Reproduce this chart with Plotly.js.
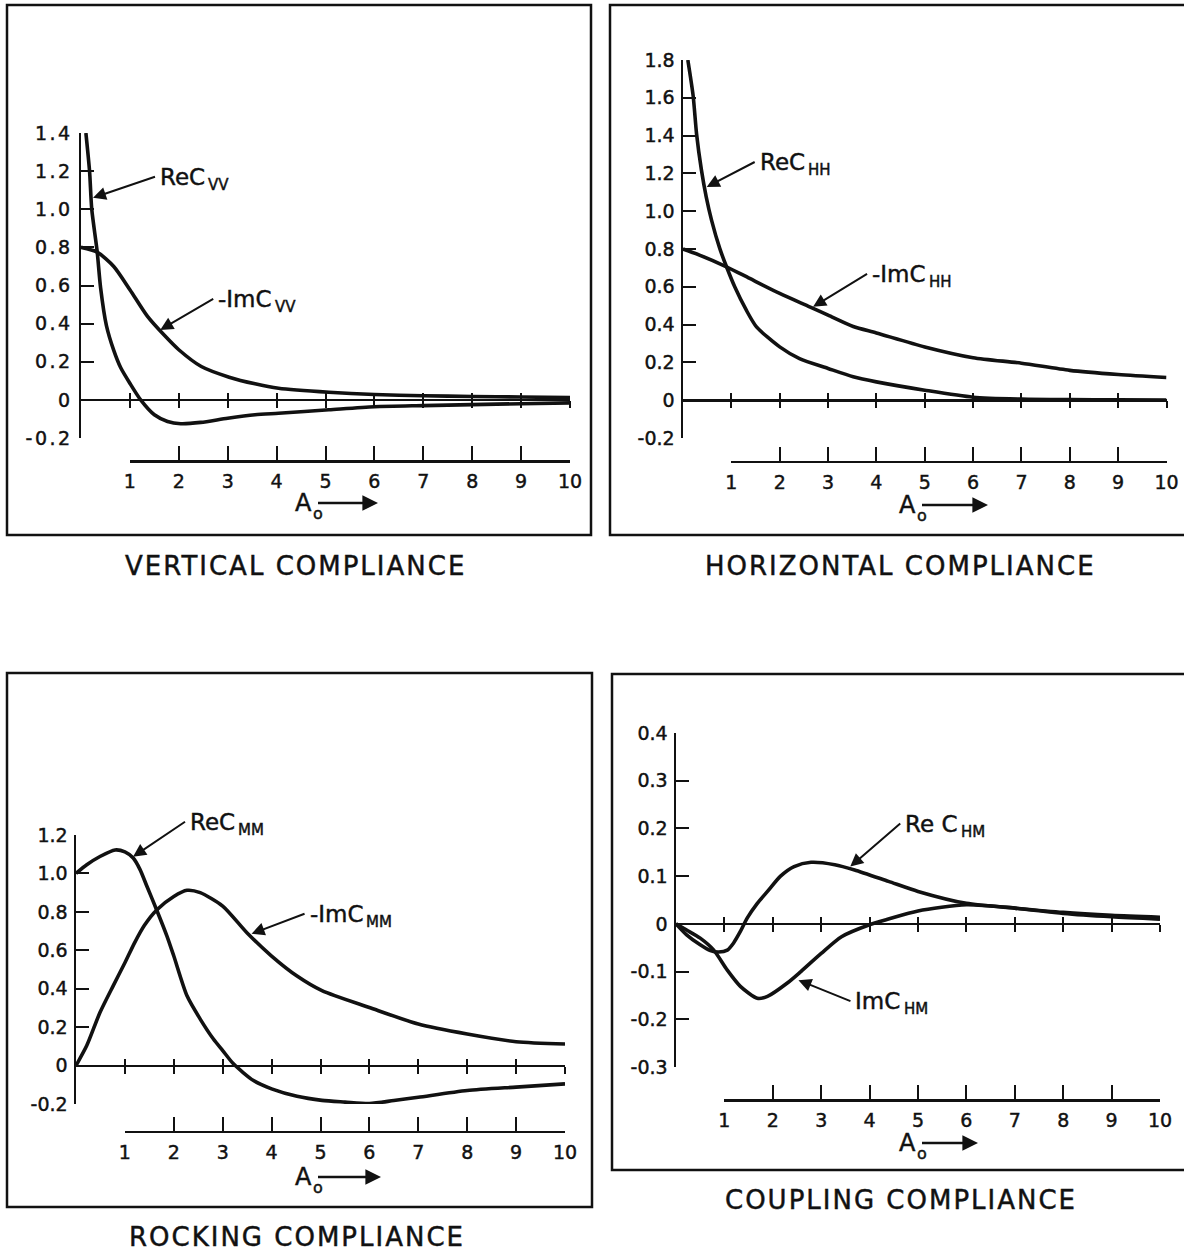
<!DOCTYPE html>
<html><head><meta charset="utf-8">
<script src="https://cdn.plot.ly/plotly-3.0.1.min.js"></script>
<style>
html,body{margin:0;padding:0;background:#fff;}
#chart{width:1184px;height:1252px;}
#chart svg text { stroke: #111; stroke-width: 0.45px; }
.xtick text, .ytick text { letter-spacing: 2.5px; }
.annotation[data-index="0"] text, .annotation[data-index="1"] text,
.annotation[data-index="2"] text, .annotation[data-index="3"] text { letter-spacing: 2px; }
</style></head>
<body><div id="chart"></div>
<script>
// ---------------- data ----------------
// Vertical compliance
const vertReX = [0.1, 0.175, 0.22, 0.33, 0.4, 0.52, 0.67, 0.81, 1.0, 1.22, 1.5, 1.77, 2.04, 2.45, 3.0, 3.56, 4.04, 5.07, 6, 7, 8, 9, 10];
const vertReY = [1.4, 1.2, 1.0, 0.78, 0.59, 0.39, 0.26, 0.17, 0.087, 0, -0.078, -0.113, -0.125, -0.118, -0.096, -0.078, -0.07, -0.052, -0.036, -0.03, -0.025, -0.02, -0.016];
const vertImX = [0, 0.33, 0.67, 1.0, 1.36, 1.7, 2.0, 2.46, 3.03, 3.56, 4.04, 5.07, 6, 7, 8, 9, 10];
const vertImY = [0.8, 0.775, 0.70, 0.578, 0.438, 0.34, 0.263, 0.175, 0.119, 0.084, 0.061, 0.04, 0.028, 0.022, 0.018, 0.015, 0.012];
// Horizontal compliance
const horzReX = [0.1, 0.21, 0.28, 0.38, 0.48, 0.59, 0.76, 0.9, 1.07, 1.31, 1.52, 2.0, 2.41, 3.0, 3.52, 4.0, 5.0, 6.0, 7, 8, 9, 10];
const horzReY = [1.8, 1.61, 1.41, 1.22, 1.076, 0.953, 0.803, 0.706, 0.6, 0.476, 0.388, 0.282, 0.22, 0.168, 0.124, 0.097, 0.053, 0.016, 0.006, 0.003, 0.002, 0.001];
const horzImX = [0, 0.34, 0.9, 1.38, 2.0, 2.62, 3.0, 3.52, 4.0, 5.0, 6.0, 7, 8, 9, 10];
const horzImY = [0.8, 0.768, 0.706, 0.644, 0.565, 0.494, 0.45, 0.39, 0.356, 0.282, 0.225, 0.196, 0.158, 0.136, 0.12];
// Rocking compliance
const rockReX = [0, 0.22, 0.49, 0.8, 1.0, 1.17, 1.31, 1.45, 1.65, 1.86, 2.0, 2.27, 2.54, 2.81, 3.0, 3.22, 3.63, 4.0, 4.52, 5.03, 5.5, 6, 6.5, 7, 8, 9, 10];
const rockReY = [1.0, 1.045, 1.088, 1.122, 1.112, 1.08, 1.02, 0.933, 0.81, 0.674, 0.57, 0.363, 0.242, 0.138, 0.078, 0.009, -0.078, -0.121, -0.16, -0.181, -0.19, -0.198, -0.182, -0.165, -0.13, -0.112, -0.095];
const rockImX = [0, 0.22, 0.49, 0.76, 1.0, 1.2, 1.4, 1.65, 2.0, 2.27, 2.54, 3.0, 3.5, 4.0, 4.52, 5.03, 6, 7, 8, 9, 10];
const rockImY = [0, 0.104, 0.276, 0.415, 0.535, 0.64, 0.73, 0.81, 0.88, 0.912, 0.9, 0.83, 0.69, 0.57, 0.466, 0.39, 0.302, 0.216, 0.164, 0.124, 0.112];
// Coupling compliance
const coupReX = [0, 0.22, 0.5, 0.71, 0.88, 1.06, 1.19, 1.33, 1.47, 1.68, 1.89, 2.16, 2.44, 2.79, 3.28, 3.69, 4.39, 5.0, 6, 7, 8, 9, 10];
const coupReY = [0, -0.023, -0.044, -0.056, -0.059, -0.055, -0.04, -0.016, 0.012, 0.043, 0.068, 0.1, 0.12, 0.129, 0.124, 0.113, 0.089, 0.068, 0.043, 0.033, 0.024, 0.018, 0.014];
const coupImX = [0, 0.22, 0.5, 0.78, 1.06, 1.33, 1.68, 1.89, 2.3, 2.58, 3.0, 3.42, 3.97, 4.39, 5.0, 6, 7, 8, 9, 10];
const coupImY = [0, -0.013, -0.03, -0.055, -0.097, -0.131, -0.156, -0.152, -0.124, -0.1, -0.062, -0.027, -0.003, 0.01, 0.027, 0.04, 0.033, 0.022, 0.015, 0.01];

// tick values / labels
const a0Ticks = [1, 2, 3, 4, 5, 6, 7, 8, 9, 10];
const a0Labels = ['1', '2', '3', '4', '5', '6', '7', '8', '9', '10'];
const vertYTicks = [-0.2, 0, 0.2, 0.4, 0.6, 0.8, 1.0, 1.2, 1.4];
const vertYLabels = ['-0.2', '0', '0.2', '0.4', '0.6', '0.8', '1.0', '1.2', '1.4'];
const horzYTicks = [-0.2, 0, 0.2, 0.4, 0.6, 0.8, 1.0, 1.2, 1.4, 1.6, 1.8];
const horzYLabels = ['-0.2', '0', '0.2', '0.4', '0.6', '0.8', '1.0', '1.2', '1.4', '1.6', '1.8'];
const rockYTicks = [-0.2, 0, 0.2, 0.4, 0.6, 0.8, 1.0, 1.2];
const rockYLabels = ['-0.2', '0', '0.2', '0.4', '0.6', '0.8', '1.0', '1.2'];
const coupYTicks = [-0.3, -0.2, -0.1, 0, 0.1, 0.2, 0.3, 0.4];
const coupYLabels = ['-0.3', '-0.2', '-0.1', '0', '0.1', '0.2', '0.3', '0.4'];

const panelTitles = ['VERTICAL COMPLIANCE', 'HORIZONTAL COMPLIANCE', 'ROCKING COMPLIANCE', 'COUPLING COMPLIANCE'];
const reMain = ['ReC', 'ReC', 'ReC', 'Re C'];
const imMain = ['-ImC', '-ImC', '-ImC', 'ImC'];
const labelSubs = ['VV', 'HH', 'MM', 'HM'];
const axisMain = 'A';
const axisSub = 'o';

// ---------------- layout geometry (pixels) ----------------
const W = 1184, H = 1252;
const px = x => x / W;
const py = y => 1 - y / H;
const FONT = 'DejaVu Sans, Liberation Sans, sans-serif';
const INK = '#111';
const LABEL_SIZE = 23, SUB_SIZE = 15, PAD = 5;

const measureCtx = document.createElement('canvas').getContext('2d');
function textWidth(t, size) {
  measureCtx.font = size + 'px "DejaVu Sans"';
  return measureCtx.measureText(t).width;
}

const series = [
  {reX: vertReX, reY: vertReY, imX: vertImX, imY: vertImY, yt: vertYTicks, yl: vertYLabels, yr: [-0.2, 1.4]},
  {reX: horzReX, reY: horzReY, imX: horzImX, imY: horzImY, yt: horzYTicks, yl: horzYLabels, yr: [-0.2, 1.8]},
  {reX: rockReX, reY: rockReY, imX: rockImX, imY: rockImY, yt: rockYTicks, yl: rockYLabels, yr: [-0.2, 1.2]},
  {reX: coupReX, reY: coupReY, imX: coupImX, imY: coupImY, yt: coupYTicks, yl: coupYLabels, yr: [-0.3, 0.4]}
];
const geo = [
  {x0: 81, x10: 570, yTop: 133, yBot: 438, scaleY: 461, box: [7, 5, 591, 535],
   title: [295, 566], reHead: [0.245, 1.06], reOff: [62, -21], imHead: [1.62, 0.367], imOff: [53, -31],
   aoArrow: [318, 378, 503]},
  {x0: 683, x10: 1166.5, yTop: 60, yBot: 438, scaleY: 461.5, box: [610, 5, 1190, 535],
   title: [900, 566], reHead: [0.49, 1.128], reOff: [48, -25], imHead: [2.69, 0.494], imOff: [54, -33],
   aoArrow: [922, 988, 505]},
  {x0: 76, x10: 565, yTop: 835, yBot: 1104, scaleY: 1131.5, box: [7, 673, 592, 1207],
   title: [297, 1237], reHead: [1.166, 1.087], reOff: [52, -35], imHead: [3.59, 0.686], imOff: [53, -20],
   aoArrow: [318, 381, 1177]},
  {x0: 676, x10: 1160, yTop: 733, yBot: 1067, scaleY: 1100, box: [612, 674, 1190, 1170],
   title: [901, 1200], reHead: [3.6, 0.12], reOff: [50, -43], imHead: [2.53, -0.118], imOff: [52, 21],
   aoArrow: [922, 978, 1143]}
];

const data = [];
const layout = {
  width: W, height: H,
  margin: {l: 0, r: 0, t: 0, b: 0},
  paper_bgcolor: '#fff', plot_bgcolor: 'rgba(0,0,0,0)',
  showlegend: false,
  font: {family: FONT, color: INK, size: 18},
  shapes: [], annotations: []
};

// titles first (annotation indices 0..3 get letter-spacing)
geo.forEach((g, i) => {
  layout.annotations.push({
    xref: 'paper', yref: 'paper', x: px(g.title[0]), y: py(g.title[1]),
    xanchor: 'center', yanchor: 'middle', showarrow: false,
    text: panelTitles[i], font: {family: FONT, size: 26, color: INK}
  });
});

geo.forEach((g, i) => {
  const s = series[i];
  const nMain = 3 * i + 1, nDown = 3 * i + 2, nScale = 3 * i + 3;
  const xk = n => (n === 1 ? 'xaxis' : 'xaxis' + n);
  const xr = n => (n === 1 ? 'x' : 'x' + n);
  const yk = i === 0 ? 'yaxis' : 'yaxis' + (i + 1);
  const yRef = i === 0 ? 'y' : 'y' + (i + 1);
  const zeroPx = g.yBot - (0 - s.yr[0]) / (s.yr[1] - s.yr[0]) * (g.yBot - g.yTop);
  const unit = (g.x10 - g.x0) / 10;

  layout[xk(nMain)] = {
    domain: [px(g.x0), px(g.x10)], range: [0, 10], anchor: 'free', position: py(zeroPx),
    showline: true, linewidth: 2.5, linecolor: INK, ticks: 'inside', ticklen: 6, tickwidth: 2,
    tickcolor: INK, tickmode: 'array', tickvals: a0Ticks, showticklabels: false,
    showgrid: false, zeroline: false, fixedrange: true
  };
  layout[xk(nDown)] = {
    domain: [px(g.x0), px(g.x10)], range: [0, 10], anchor: 'free', position: py(zeroPx),
    showline: false, ticks: 'outside', ticklen: 7, tickwidth: 2, tickcolor: INK,
    tickmode: 'array', tickvals: a0Ticks, showticklabels: false,
    showgrid: false, zeroline: false, fixedrange: true
  };
  layout[xk(nScale)] = {
    domain: [px(g.x0 + unit), px(g.x10)], range: [1, 10], anchor: 'free', position: py(g.scaleY),
    showline: true, linewidth: 2.5, linecolor: INK, ticks: 'inside', ticklen: 14, tickwidth: 2,
    tickcolor: INK, tickmode: 'array', tickvals: a0Ticks, ticktext: a0Labels,
    tickfont: {family: FONT, size: 19, color: INK}, ticklabelstandoff: 3,
    showgrid: false, zeroline: false, fixedrange: true
  };
  layout[yk] = {
    domain: [py(g.yBot), py(g.yTop)], range: s.yr, anchor: xr(nMain),
    showline: true, linewidth: 2.5, linecolor: INK, ticks: 'inside', ticklen: 13, tickwidth: 2,
    tickcolor: INK, tickmode: 'array', tickvals: s.yt, ticktext: s.yl,
    tickfont: {family: FONT, size: 19, color: INK}, ticklabelstandoff: 2,
    showgrid: false, zeroline: false, fixedrange: true
  };

  const lineStyle = {color: INK, width: 3.6, shape: 'spline', smoothing: 0.7};
  data.push({x: s.reX, y: s.reY, xaxis: xr(nMain), yaxis: yRef, mode: 'lines', line: lineStyle, hoverinfo: 'skip', cliponaxis: false});
  data.push({x: s.imX, y: s.imY, xaxis: xr(nMain), yaxis: yRef, mode: 'lines', line: lineStyle, hoverinfo: 'skip', cliponaxis: false});
  // carriers so the extra axes get drawn
  data.push({x: a0Ticks, y: a0Ticks.map(() => null), xaxis: xr(nDown), yaxis: yRef, mode: 'lines', hoverinfo: 'skip'});
  data.push({x: a0Ticks, y: a0Ticks.map(() => null), xaxis: xr(nScale), yaxis: yRef, mode: 'lines', hoverinfo: 'skip'});

  // panel frame
  layout.shapes.push({type: 'rect', xref: 'paper', yref: 'paper',
    x0: px(g.box[0]), x1: px(g.box[2]), y0: py(g.box[3]), y1: py(g.box[1]),
    line: {color: INK, width: 2.5}, fillcolor: 'rgba(0,0,0,0)'});

  // curve labels with pointer arrows (text sits at the arrow tail), subscripts as own text
  const addLabel = (head, off, main, sub) => {
    layout.annotations.push({xref: xr(nMain), yref: yRef, x: head[0], y: head[1],
      ax: off[0], ay: off[1], axref: 'pixel', ayref: 'pixel', text: main,
      showarrow: true, arrowhead: 2, arrowsize: 1.3, arrowwidth: 2, arrowcolor: INK, standoff: 0,
      xanchor: 'left', yanchor: 'middle', borderpad: PAD, borderwidth: 0,
      font: {family: FONT, size: LABEL_SIZE, color: INK}});
    layout.annotations.push({xref: xr(nMain), yref: yRef, x: head[0], y: head[1],
      xshift: off[0] + PAD + textWidth(main, LABEL_SIZE) + 3, yshift: -(off[1] + 8),
      xanchor: 'left', yanchor: 'middle', showarrow: false, borderpad: 0, borderwidth: 0, text: sub,
      font: {family: FONT, size: SUB_SIZE, color: INK}});
  };
  addLabel(g.reHead, g.reOff, reMain[i], labelSubs[i]);
  addLabel(g.imHead, g.imOff, imMain[i], labelSubs[i]);

  // A0 -> label: "A" at the tail of a right-pointing arrow, "o" subscript below the tail
  layout.annotations.push({xref: 'paper', yref: 'paper', x: px(g.aoArrow[1]), y: py(g.aoArrow[2]),
    ax: g.aoArrow[0] - g.aoArrow[1], ay: 0, axref: 'pixel', ayref: 'pixel', text: axisMain,
    xanchor: 'right', yanchor: 'middle', borderpad: 6, borderwidth: 0, showarrow: true,
    arrowhead: 2, arrowsize: 1.2, arrowwidth: 2.6, arrowcolor: INK, standoff: 0,
    font: {family: FONT, size: 24, color: INK}});
  layout.annotations.push({xref: 'paper', yref: 'paper', x: px(g.aoArrow[0] - 5), y: py(g.aoArrow[2] + 10),
    xanchor: 'left', yanchor: 'middle', showarrow: false, borderpad: 0, borderwidth: 0, text: axisSub,
    font: {family: FONT, size: 16, color: INK}});
});

Plotly.newPlot('chart', data, layout, {staticPlot: true, displayModeBar: false});
</script>
</body></html>
